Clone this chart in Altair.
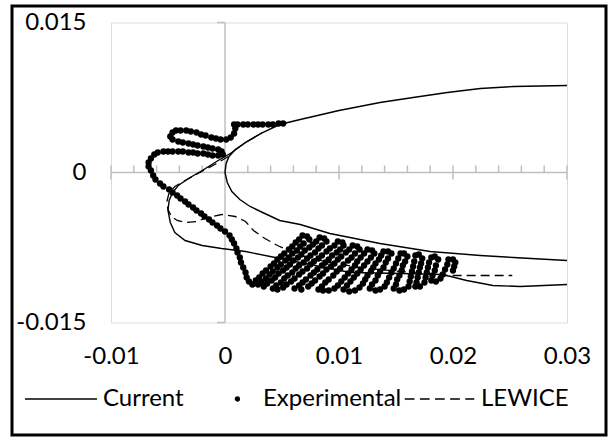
import altair as alt
import pandas as pd

FONT = "Lato"
FONT_SIZE = 24
AXIS_GREY = "#bfbfbf"
INK = "black"

# ---- axis structure -------------------------------------------------------
X_RANGE = [-0.01, 0.03]
Y_RANGE = [-0.015, 0.015]
X_MAJOR = [-0.01, 0.0, 0.01, 0.02, 0.03]
X_MINOR = [-0.008, -0.006, -0.004, -0.002, 0.002, 0.004, 0.006, 0.008,
           0.012, 0.014, 0.016, 0.018, 0.022, 0.024, 0.026, 0.028]
Y_MAJOR = [-0.015, 0.0, 0.015]
SERIES = ["Current", "Experimental", "LEWICE"]

# ---- Current: clean contour (upper surface -> leading edge -> lower surface)
CUR_CLEAN = [
    (0.0300, 0.0087), (0.0253, 0.0086), (0.0224, 0.0084), (0.0195, 0.0080),
    (0.0165, 0.0075), (0.0136, 0.0070), (0.0100, 0.0062), (0.0066, 0.0053),
    (0.0048, 0.0048), (0.0033, 0.0040), (0.0018, 0.0030), (0.0009, 0.0023),
    (0.00035, 0.0016), (0.0001, 0.0009), (0.0, 0.0), (0.0002, -0.0010),
    (0.0006, -0.0019), (0.0013, -0.0027), (0.0022, -0.0034), (0.0033, -0.0040),
    (0.0048, -0.0048), (0.0066, -0.0052), (0.0092, -0.0061), (0.0136, -0.0071),
    (0.0180, -0.0079), (0.0224, -0.0083), (0.0253, -0.0085), (0.0300, -0.0088),
]

# ---- Current: predicted ice shape
CUR_ICE = [
    (0.0033, 0.0040), (0.0018, 0.0030), (0.0006, 0.0020), (-0.0006, 0.0012),
    (-0.0020, 0.0002), (-0.0032, -0.0006), (-0.0041, -0.0013), (-0.0046, -0.0020),
    (-0.0049, -0.0028), (-0.0050, -0.0038), (-0.0048, -0.0050), (-0.0044, -0.0060),
    (-0.0035, -0.0068), (-0.0020, -0.0073), (-0.0003, -0.0076), (0.0018, -0.0079),
    (0.0044, -0.0085), (0.0079, -0.0093), (0.0110, -0.0100), (0.0154, -0.0101),
    (0.0191, -0.0102), (0.0212, -0.0108), (0.0235, -0.0113), (0.0259, -0.0114),
    (0.0300, -0.0112),
]

# ---- LEWICE ice shape
LEWICE = [
    (0.0003, 0.0016), (-0.0009, 0.0008), (-0.0022, 0.0000), (-0.0035, -0.0008),
    (-0.0044, -0.0014), (-0.0049, -0.0020), (-0.0051, -0.0029), (-0.0050, -0.0037),
    (-0.0047, -0.0044), (-0.0042, -0.0048), (-0.0034, -0.0050), (-0.0025, -0.0049),
    (-0.0015, -0.0045), (-0.0003, -0.0042), (0.0009, -0.0044), (0.0018, -0.0049),
    (0.0025, -0.0058), (0.0035, -0.0066), (0.0046, -0.0073), (0.0066, -0.0083),
    (0.0092, -0.0090), (0.0118, -0.0095), (0.0154, -0.0099), (0.0193, -0.0103),
    (0.0252, -0.0103),
]

# ---- Experimental tracing, coordinates in units of 1e-4
EXP_UNIT = 1e-4
EXP_LEADING_EDGE = [
    (51, 49), (47, 49), (42, 48), (38, 48), (33, 48), (29, 48), (25, 48), (20, 48),
    (16, 48), (11, 48), (8, 48), (9, 44), (8, 39), (5, 35), (1, 33),
    (-4, 33), (-8, 34), (-12, 35), (-17, 37), (-21, 38), (-25, 40), (-30, 41),
    (-34, 42), (-39, 42), (-43, 42), (-46, 40), (-48, 36),
    (-46, 33), (-41, 31), (-37, 30), (-32, 29), (-28, 28), (-24, 27), (-19, 26),
    (-15, 25), (-11, 24), (-6, 23), (-3, 21), (-2, 18),
    (-6, 17), (-11, 17), (-15, 18), (-19, 19), (-24, 19), (-28, 20), (-32, 20),
    (-37, 21), (-41, 21), (-46, 21), (-50, 21), (-54, 21), (-59, 20), (-62, 18),
    (-65, 14), (-67, 10), (-67, 6), (-65, 2), (-63, -3), (-61, -7), (-57, -11),
    (-54, -14),
]
EXP_LOWER_SLOPE = [
    (-49, -17), (-46, -20), (-42, -23), (-39, -26), (-35, -29), (-32, -32),
    (-28, -35), (-25, -38), (-21, -41), (-18, -44), (-14, -47), (-11, -50),
    (-7, -53), (-4, -56), (0, -59), (4, -63), (6, -67), (8, -71), (10, -76),
    (11, -80), (13, -85), (14, -90), (16, -95), (18, -100), (19, -105),
    (21, -109), (24, -112),
]
EXP_FEATHERS = [
    (27, -108), (30, -105), (33, -101), (36, -98), (40, -94), (43, -91), (46, -87),
    (49, -84), (52, -81), (56, -77), (59, -74), (62, -70), (65, -67), (68, -63),
    (72, -64), (74, -67), (69, -71), (66, -74), (63, -78), (59, -81), (56, -85),
    (53, -88), (49, -92), (46, -95), (42, -99), (39, -102), (36, -106), (32, -109),
    (29, -112), (34, -114),
    (37, -111), (41, -108), (44, -105), (47, -101), (51, -98), (54, -95), (57, -92),
    (60, -88), (64, -85), (67, -82), (70, -78), (74, -75), (77, -72), (80, -69),
    (83, -65), (87, -66), (89, -69), (85, -73), (82, -76), (79, -80), (75, -83),
    (72, -86), (69, -90), (65, -93), (62, -96), (59, -100), (55, -103), (52, -106),
    (49, -110), (45, -113), (42, -116), (46, -117), (51, -115),
    (54, -112), (58, -109), (61, -106), (65, -102), (68, -99), (72, -96), (75, -92),
    (78, -89), (82, -86), (85, -83), (89, -79), (92, -76), (96, -73), (99, -69),
    (103, -70), (104, -73), (101, -77), (98, -80), (94, -83), (91, -87), (88, -90),
    (85, -93), (81, -97), (78, -100), (75, -103), (71, -107), (68, -110), (65, -113),
    (61, -116), (67, -117), (73, -114),
    (76, -111), (79, -108), (83, -104), (86, -101), (89, -97), (93, -94), (96, -91),
    (99, -87), (102, -84), (106, -80), (109, -77), (112, -73), (116, -74), (118, -77),
    (114, -81), (111, -85), (108, -88), (104, -92), (101, -96), (98, -99), (95, -103),
    (91, -107), (88, -110), (85, -114), (82, -117), (86, -118), (91, -118), (96, -116),
    (99, -113), (102, -109), (105, -105), (108, -101), (111, -97), (114, -93),
    (116, -89), (119, -85), (122, -81), (125, -77), (129, -78), (131, -81),
    (128, -85), (125, -89), (122, -93), (119, -97), (116, -101), (113, -105),
    (110, -109), (107, -113), (104, -117), (109, -119), (114, -118), (118, -115),
    (121, -111), (123, -107), (125, -103), (128, -99), (130, -95), (132, -91),
    (135, -87), (137, -83), (139, -79), (143, -79), (146, -81),
    (143, -86), (141, -90), (139, -95), (136, -99), (134, -103), (132, -108),
    (129, -112), (127, -116), (132, -118), (136, -117), (140, -114),
    (142, -110), (144, -105), (146, -100), (148, -96), (150, -91), (152, -86),
    (154, -81), (157, -81), (160, -84), (158, -89), (156, -93), (155, -98),
    (153, -103), (151, -107), (150, -112), (148, -116), (153, -118), (157, -117),
    (161, -114),
    (162, -109), (163, -104), (164, -99), (165, -94), (166, -89), (167, -83),
    (170, -82), (173, -86), (172, -91), (171, -95), (170, -100), (169, -105),
    (168, -110), (167, -114), (171, -114), (175, -110),
    (176, -105), (177, -100), (178, -95), (179, -90), (181, -85), (184, -84),
    (187, -87), (185, -93), (184, -98), (182, -103), (181, -108), (185, -109),
    (189, -106),
    (191, -102), (193, -97), (195, -92), (196, -87), (200, -87), (202, -90),
    (201, -94), (200, -98),
]

# legend glyphs, drawn in the symbol's unit square (solid line, dot, dashes)
LEGEND_GLYPHS = [
    "M-1,0H1",
    "M0.40,0A0.055,0.055 0 1,1 0.51,0A0.055,0.055 0 1,1 0.40,0Z"
    "M0.435,0A0.02,0.02 0 1,1 0.475,0A0.02,0.02 0 1,1 0.435,0Z",
    "M-0.95,0H-0.68M-0.53,0H-0.26M-0.11,0H0.16M0.31,0H0.58M0.73,0H0.98",
]

# ---- tables ---------------------------------------------------------------
def contour(points, series, part):
    return pd.DataFrame({
        "x": [p[0] for p in points],
        "y": [p[1] for p in points],
        "series": series,
        "part": part,
        "i": range(len(points)),
    })

current_df = pd.concat([contour(CUR_CLEAN, "Current", "clean"),
                        contour(CUR_ICE, "Current", "ice")])
lewice_df = contour(LEWICE, "LEWICE", "ice")
exp_pts = EXP_LEADING_EDGE + EXP_LOWER_SLOPE + EXP_FEATHERS
exp_df = pd.DataFrame({"x": [p[0] * EXP_UNIT for p in exp_pts],
                       "y": [p[1] * EXP_UNIT for p in exp_pts]})

x_line_df = pd.DataFrame({"x": [X_RANGE[0]], "x2": [X_RANGE[1]], "y": [0.0]})
y_line_df = pd.DataFrame({"x": [0.0], "y": [Y_RANGE[0]], "y2": [Y_RANGE[1]]})
x_major_df = pd.DataFrame({"x": X_MAJOR, "y": 0.0})
x_minor_df = pd.DataFrame({"x": X_MINOR, "y": 0.0})
y_major_df = pd.DataFrame({"x": 0.0, "y": Y_MAJOR})
legend_df = pd.DataFrame({"series": SERIES, "x": 0.0, "y": 0.0})
frame_df = pd.DataFrame({"k": [0]})

# ---- scales / axes --------------------------------------------------------
xs = alt.Scale(domain=X_RANGE, nice=False, zero=False)
ys = alt.Scale(domain=Y_RANGE, nice=False, zero=False)
label_style = dict(labelFont=FONT, labelFontSize=FONT_SIZE, labelColor=INK,
                   domain=False, ticks=False, tickSize=0, grid=False,
                   labelOverlap=False, labelFlush=False,
                   labelExpr="'' + datum.value")
x_axis = alt.Axis(values=X_MAJOR, labelPadding=34, labelBaseline="middle",
                  **label_style)
y_axis = alt.Axis(values=Y_MAJOR, labelPadding=25, labelBaseline="middle",
                  labelAlign="right", **label_style)
X = alt.X("x:Q", scale=xs, axis=x_axis, title=None)
Y = alt.Y("y:Q", scale=ys, axis=y_axis, title=None)

frame = alt.Chart(frame_df).mark_rect(
    fillOpacity=0, stroke=INK, strokeWidth=3
).encode(x=alt.value(-99), x2=alt.value(495), y=alt.value(-16.5), y2=alt.value(412.5))

x_line = alt.Chart(x_line_df).mark_rule(color=AXIS_GREY, strokeWidth=1.5).encode(
    x=X, x2="x2:Q", y=Y)
y_line = alt.Chart(y_line_df).mark_rule(color=AXIS_GREY, strokeWidth=1.5).encode(
    x=X, y=Y, y2="y2:Q")
x_major = alt.Chart(x_major_df).mark_tick(
    orient="vertical", size=14, thickness=1.5, color=AXIS_GREY, opacity=1
).encode(x=X, y=Y)
x_minor = alt.Chart(x_minor_df).mark_tick(
    orient="vertical", size=7, thickness=1.5, yOffset=-3.5, color=AXIS_GREY, opacity=1
).encode(x=X, y=Y)
y_major = alt.Chart(y_major_df).mark_tick(
    orient="horizontal", size=8, thickness=1.5, xOffset=-4, color=AXIS_GREY, opacity=1
).encode(x=X, y=Y)

current = alt.Chart(current_df).mark_line(color=INK, strokeWidth=1.4).encode(
    x=X, y=Y, detail="part:N", order="i:Q")
lewice = alt.Chart(lewice_df).mark_line(
    color=INK, strokeWidth=1.3, strokeDash=[9, 5]
).encode(x=X, y=Y, order="i:Q")
experimental = alt.Chart(exp_df).mark_circle(
    size=40, color=INK, opacity=1
).encode(x=X, y=Y)

# key only: the glyphs live in the legend, the points themselves stay hidden
legend_layer = alt.Chart(legend_df).mark_point(
    filled=False, color=INK, strokeWidth=1.3, opacity=0
).encode(
    x=X, y=Y,
    shape=alt.Shape(
        "series:N",
        scale=alt.Scale(domain=SERIES, range=LEGEND_GLYPHS),
        legend=alt.Legend(
            title=None, orient="none", direction="horizontal",
            legendX=-87, legendY=339.5, padding=0,
            symbolSize=5184, symbolStrokeWidth=1.3,
            symbolStrokeColor=INK, symbolFillColor=INK, symbolOpacity=1,
            labelFont=FONT, labelFontSize=FONT_SIZE, labelColor=INK,
            labelOffset=5, labelLimit=400, columnPadding=-2,
        ),
    ),
)

chart = alt.layer(
    frame, x_line, y_line, x_minor, x_major, y_major,
    current, lewice, experimental, legend_layer,
).properties(
    width=456, height=300,
    padding={"left": 111, "top": 22.5, "right": 43, "bottom": 114.5},
    autosize=alt.AutoSizeParams(type="none"),
).configure_view(stroke=None).configure(background="white")

chart.save("out.html", embed_options={"renderer": "svg", "actions": False})
